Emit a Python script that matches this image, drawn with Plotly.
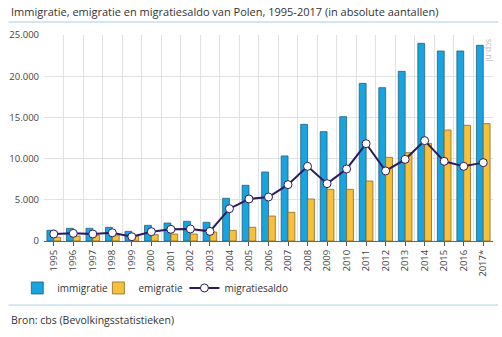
import plotly.graph_objects as go

years = ["1995", "1996", "1997", "1998", "1999", "2000", "2001", "2002", "2003", "2004",
         "2005", "2006", "2007", "2008", "2009", "2010", "2011", "2012", "2013", "2014",
         "2015", "2016", "2017*"]
immigratie = [1300, 1540, 1540, 1660, 1170, 1900, 2180, 2390, 2270, 5180,
              6760, 8370, 10320, 14160, 13270, 15090, 19130, 18610, 20590, 23990,
              23060, 23060, 23750]
emigratie = [450, 600, 690, 730, 650, 770, 850, 850, 1090, 1290,
             1660, 3030, 3480, 5100, 6270, 6270, 7280, 10150, 10720, 11850,
             13470, 14040, 14240]
saldo = [850, 930, 850, 1000, 520, 1130, 1420, 1460, 1170, 3920,
         5100, 5340, 6840, 9060, 6960, 8740, 11810, 8500, 9910, 12180,
         9670, 9060, 9510]
y_ticks = [0, 5000, 10000, 15000, 20000, 25000]

xs = list(range(len(years)))
FONT = "Open Sans"

fig = go.Figure()
fig.add_trace(go.Bar(x=xs, y=immigratie, name="immigratie", legend="legend",
                     marker=dict(color="#18A4DE", line=dict(color="#245f80", width=0.8))))
fig.add_trace(go.Bar(x=xs, y=emigratie, name="emigratie", legend="legend2",
                     marker=dict(color="#F8BF3B", line=dict(color="#8a6a25", width=0.8))))
fig.add_trace(go.Scatter(x=xs, y=saldo, name="migratiesaldo", mode="lines+markers", legend="legend3",
                         line=dict(color="#2C1A5C", width=2),
                         marker=dict(symbol="circle", size=8, color="white",
                                     line=dict(color="#2C1A5C", width=1))))

def px_x(p):
    return (p - 39) / 454.0

leg_common = dict(orientation="h", xanchor="left", y=-0.228, yanchor="middle",
                  font=dict(size=10, color="#333333", family=FONT), itemwidth=30,
                  bgcolor="rgba(0,0,0,0)")

fig.update_layout(
    width=502, height=337,
    margin=dict(l=39, r=9, t=35, b=96),
    paper_bgcolor="white", plot_bgcolor="white",
    separators=",.",
    barmode="group", bargap=0.3, bargroupgap=0,
    font=dict(family=FONT, size=10, color="#333333"),
    showlegend=True,
    legend=dict(x=px_x(12), **leg_common),
    legend2=dict(x=px_x(94), **leg_common),
    legend3=dict(x=px_x(181), **leg_common),
    xaxis=dict(range=[-0.5, len(years) - 0.5], tickmode="array", tickvals=xs, ticktext=years,
               tickangle=-90, showgrid=False, zeroline=False,
               ticks="outside", ticklen=4, tickcolor="#555555",
               tickfont=dict(size=9.5, color="#444444", family=FONT),
               showline=True, linecolor="#666666", linewidth=1,
               minor=dict(tick0=-0.5, dtick=1, showgrid=True, gridcolor="#e2e2e2", gridwidth=1, ticks="")),
    yaxis=dict(range=[0, 25000], tickmode="array", tickvals=y_ticks,
               tickformat=",d", showgrid=True, gridcolor="#e2e2e2", gridwidth=1,
               zeroline=False, ticks="", ticklabelstandoff=4,
               tickfont=dict(size=9.5, color="#444444", family=FONT)),
)

# decorative separator lines
fig.add_shape(type="line", xref="paper", yref="paper", x0=-0.079, x1=1.011, y0=1.063, y1=1.063,
              line=dict(color="#a9cfe4", width=1))
fig.add_shape(type="line", xref="paper", yref="paper", x0=-0.079, x1=1.011, y0=-0.311, y1=-0.311,
              line=dict(color="#a9cfe4", width=1))

fig.add_annotation(text="Immigratie, emigratie en migratiesaldo van Polen, 1995-2017 (in absolute aantallen)",
                   xref="paper", yref="paper", x=-0.079, y=1.112, xanchor="left", yanchor="middle",
                   showarrow=False, font=dict(size=11, color="#333333", family=FONT))
fig.add_annotation(text="Bron: cbs (Bevolkingsstatistieken)",
                   xref="paper", yref="paper", x=-0.079, y=-0.383, xanchor="left", yanchor="middle",
                   showarrow=False, font=dict(size=10.5, color="#333333", family=FONT))
fig.add_annotation(text="scp.nl", xref="paper", yref="paper", x=0.993, y=0.99,
                   xanchor="center", yanchor="top", textangle=90, showarrow=False,
                   font=dict(size=8.5, color="#bbbbbb", family=FONT))

fig.write_html("out.html")
